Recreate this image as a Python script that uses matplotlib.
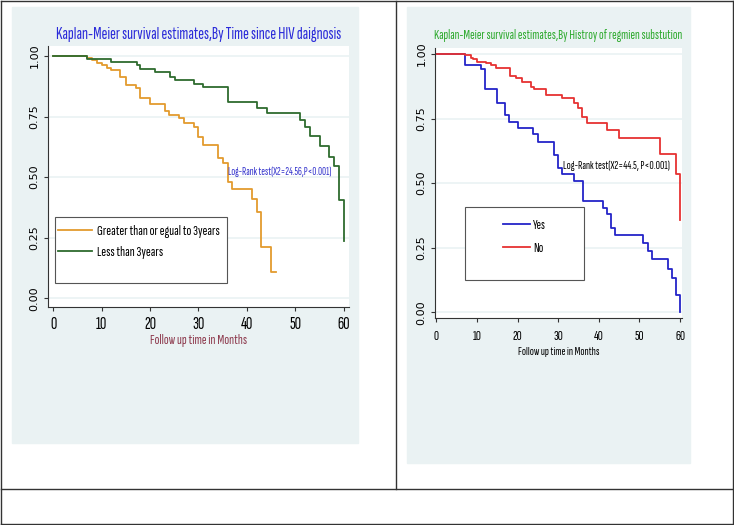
import matplotlib
matplotlib.use('Agg')
import matplotlib.pyplot as plt
from matplotlib.patches import Rectangle
from matplotlib.lines import Line2D

# Kaplan-Meier step data (months, survival)
t_ge3 = [0, 7, 8, 9, 10, 11, 12, 13.8, 15, 17, 18, 20, 23, 24, 26, 27, 29, 30, 31,
         34, 35, 36, 37, 41, 42, 43, 45, 46]
s_ge3 = [1, .990, .982, .972, .963, .951, .940, .913, .880, .869, .826, .801, .772, .758,
         .744, .725, .706, .665, .634, .580, .557, .481, .450, .411, .354, .213, .110, .110]

t_lt3 = [0, 7, 12, 17.2, 18, 21, 24.1, 25.2, 29, 31, 36, 42, 44.2, 51, 52, 53, 55.1,
         57, 58, 59, 60]
s_lt3 = [1, .988, .976, .962, .948, .934, .915, .901, .885, .870, .811, .786, .763, .737,
         .705, .668, .629, .585, .545, .406, .238]

t_yes = [0, 7, 11, 12, 15, 17, 18, 20, 23.8, 25, 29, 30, 31, 34, 36, 41, 42, 43, 44,
         51, 52, 53, 57, 58, 59, 60]
s_yes = [1, .957, .940, .865, .812, .762, .737, .713, .689, .660, .610, .560, .534, .508,
         .432, .405, .380, .325, .299, .270, .238, .205, .166, .134, .067, 0.0]

t_no = [0, 7, 8.5, 9.1, 10.1, 12.2, 13.4, 14.6, 18.1, 19.5, 21, 23.2, 24, 27, 31, 34,
        34.8, 35.8, 37, 42.1, 45, 55.1, 59, 60]
s_no = [1, .995, .986, .979, .970, .964, .956, .945, .913, .905, .892, .873, .866, .842,
        .828, .810, .790, .757, .734, .707, .675, .612, .535, .357]

x_ticks = [0, 10, 20, 30, 40, 50, 60]
y_ticks = [0, 0.25, 0.5, 0.75, 1.0]
y_ticklabels = ['0.00', '0.25', '0.50', '0.75', '1.00']

W, H = 734, 525
NARROW = ['Sofia Sans Extra Condensed', 'Roboto Condensed', 'DejaVu Sans']
BG = '#EAF2F3'
LINE = '#333333'


def fx(px):
    return px / W


def fy(py):
    return 1 - py / H


def rect(x0, y0, x1, y1):
    return [fx(x0), fy(y1), fx(x1) - fx(x0), fy(y0) - fy(y1)]


fig = plt.figure(figsize=(W / 100, H / 100), dpi=100)
renderer = fig.canvas.get_renderer()


def size_for(s, width_px, size0=10.0):
    # font size that makes string s about width_px pixels wide
    t = fig.text(0, 0, s, family=NARROW, fontsize=size0)
    w = t.get_window_extent(renderer).width
    t.remove()
    return size0 * width_px / w


# panel backgrounds
for x0, y0, x1, y1 in [(12, 7, 358, 443), (407, 7, 690, 463)]:
    fig.patches.append(Rectangle((fx(x0), fy(y1)), fx(x1) - fx(x0), fy(y0) - fy(y1),
                                 transform=fig.transFigure, color=BG, zorder=-1))

# table frame
frame = [([0.5, 733.5], [0.5, 0.5]), ([0.5, 733.5], [524, 524]),
         ([0.5, 0.5], [0.5, 524]), ([733.3, 733.3], [0.5, 524]),
         ([0.5, 733.5], [489, 489]), ([395.5, 395.5], [0.5, 489])]
for xs, ys in frame:
    fig.add_artist(Line2D([fx(v) for v in xs], [fy(v) for v in ys],
                          transform=fig.transFigure, color=LINE, lw=1.0))


def km_axes(r, xlim, ylim, xpad, tick_size):
    ax = fig.add_axes(r)
    ax.set_facecolor('white')
    ax.set_xlim(xlim)
    ax.set_ylim(ylim)
    for s in ['top', 'right']:
        ax.spines[s].set_visible(False)
    for s in ['left', 'bottom']:
        ax.spines[s].set_color(LINE)
        ax.spines[s].set_linewidth(0.8)
    ax.set_xticks(x_ticks)
    ax.set_yticks(y_ticks)
    ax.set_yticklabels(y_ticklabels, rotation=90, va='center', fontsize=8)
    ax.set_xticklabels([str(v) for v in x_ticks], family=NARROW, fontsize=tick_size)
    ax.tick_params(axis='both', length=3, width=0.8, color=LINE)
    ax.tick_params(axis='x', pad=xpad)
    ax.tick_params(axis='y', pad=3)
    ax.grid(axis='y', color=BG, lw=1.2)
    ax.set_axisbelow(True)
    return ax


def add_legend(ax, box, anchor, label_w, sample, handle_px, pad_px, spacing):
    ax.add_patch(Rectangle((fx(box[0]), fy(box[3])), fx(box[2]) - fx(box[0]),
                           fy(box[1]) - fy(box[3]), transform=fig.transFigure,
                           facecolor='white', edgecolor='#555555', lw=0.8,
                           zorder=4.5, clip_on=False))
    size = size_for(sample, label_w)
    em = size * 100 / 72
    ax.legend(loc='upper left', bbox_to_anchor=(fx(anchor[0]), fy(anchor[1])),
              bbox_transform=fig.transFigure, frameon=False,
              prop={'family': NARROW, 'size': size}, handlelength=handle_px / em,
              handletextpad=pad_px / em, labelspacing=spacing, borderpad=0,
              borderaxespad=0)


# ---- left panel ----
ax1 = km_axes(rect(48, 46, 349, 307), (-1.1, 61.1), (-0.036, 1.041), 4.5,
              size_for('60', 12.5))
ax1.step(t_ge3, s_ge3, where='post', color='#E39B2E', lw=1.3,
         label='Greater than or egual to 3years')
ax1.step(t_lt3, s_lt3, where='post', color='#2E6B2E', lw=1.3, label='Less than 3years')
xl1 = 'Follow up time in Months'
ax1.set_xlabel(xl1, family=NARROW, fontsize=size_for(xl1, 97), color='#8E3B4E',
               va='center')
ax1.xaxis.set_label_coords(fx(198.7), fy(340.5), transform=fig.transFigure)
an1 = 'Log-Rank test(X2=24.56,P<0.001)'
ax1.text(36.1, 0.521, an1, family=NARROW, fontsize=size_for(an1, 104),
         color='#3333CC', va='center', ha='left')
add_legend(ax1, (55, 217, 227, 283), (58, 225), 122, 'Greater than or egual to 3years',
           34, 5, 0.55)
tt1 = 'Kaplan-Meier survival estimates,By Time since HIV daignosis'
fig.text(fx(198.5), fy(34), tt1, family=NARROW, fontsize=size_for(tt1, 287),
         color='#2B2BD9', ha='center', va='center')

# ---- right panel ----
ax2 = km_axes(rect(435, 48, 682, 318), (-0.32, 60.49), (-0.022, 1.023), 6,
              size_for('60', 10))
ax2.step(t_yes, s_yes, where='post', color='#2424C8', lw=1.3, label='Yes')
ax2.step(t_no, s_no, where='post', color='#E63232', lw=1.3, label='No')
ax2.set_xlabel(xl1, family=NARROW, fontsize=size_for(xl1, 81), color='black',
               va='center')
ax2.xaxis.set_label_coords(fx(558.3), fy(352), transform=fig.transFigure)
an2 = 'Log-Rank test(X2=44.5, P<0.001)'
ax2.text(31.2, 0.566, an2, family=NARROW, fontsize=size_for(an2, 107),
         color='black', va='center', ha='left')
add_legend(ax2, (465, 207, 584, 280), (503, 219), 13, 'Yes', 27, 3, 0.75)
tt2 = 'Kaplan-Meier survival estimates,By Histroy of regmien substution'
fig.text(fx(558), fy(35), tt2, family=NARROW, fontsize=size_for(tt2, 248),
         color='#2EAA2E', ha='center', va='center')

fig.savefig('out.png', dpi=100)
